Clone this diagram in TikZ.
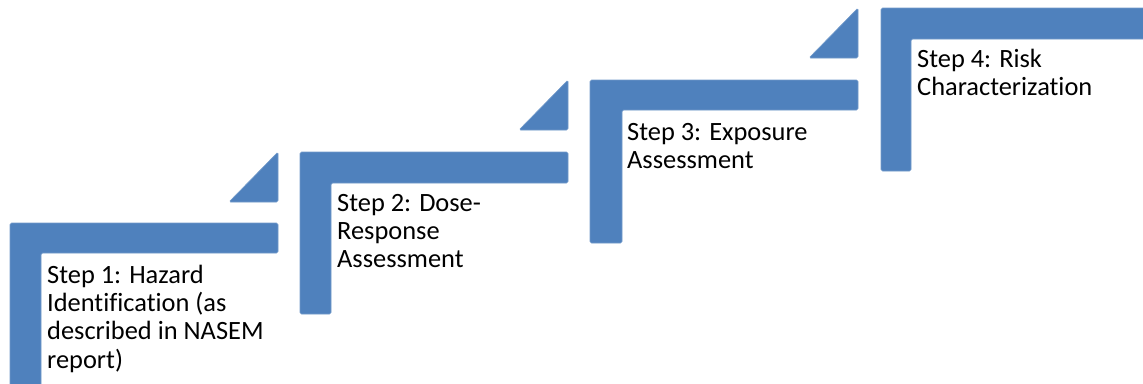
\documentclass[tikz,border=0pt]{standalone}
\usepackage{fontspec}
\setmainfont[Ligatures=NoCommon]{Carlito}
\definecolor{stepblue}{HTML}{4F81BD}
\tikzset{
  stepshape/.style={fill=stepblue, draw=stepblue!80!white, line width=0.6bp, rounded corners=1.5bp},
  steptext/.style={anchor=base west, inner sep=0pt, align=left, text=black,
    font=\fontsize{26.5}{28.3}\selectfont}
}
\begin{document}
\begin{tikzpicture}[x=1bp,y=-1bp]
\useasboundingbox (0,0) rectangle (1143,383);
\clip (0,0) rectangle (1143,383);
\fill[white] (0,0) rectangle (1143,383);
% Step 1
\path[stepshape] (10,223) -- (278,223) -- (278,253) -- (41,253) -- (41,400) -- (10,400) -- cycle;
\path[stepshape] (229,202) -- (278,202) -- (278,152) -- cycle;
\node[steptext] (s1) at (47,368) {Step 1: Hazard\\Identification (as\\described in NASEM\\report)};
% Step 2
\path[stepshape] (300,152) -- (568,152) -- (568,183) -- (331,183) -- (331,314) -- (300,314) -- cycle;
\path[stepshape] (519,130) -- (568,130) -- (568,80) -- cycle;
\node[steptext] (s2) at (337,267.6) {Step 2: Dose-\\Response\\Assessment};
% Step 3
\path[stepshape] (590,80) -- (858,80) -- (858,110) -- (622,110) -- (622,243) -- (590,243) -- cycle;
\path[stepshape] (809,58) -- (858,58) -- (858,8) -- cycle;
\node[steptext] (s3) at (627,168.3) {Step 3: Exposure\\Assessment};
% Step 4
\path[stepshape] (881,8) -- (1160,8) -- (1160,39) -- (911,39) -- (911,171) -- (881,171) -- cycle;
\node[steptext] (s4) at (917,95.3) {Step 4: Risk\\Characterization};
\end{tikzpicture}
\end{document}
